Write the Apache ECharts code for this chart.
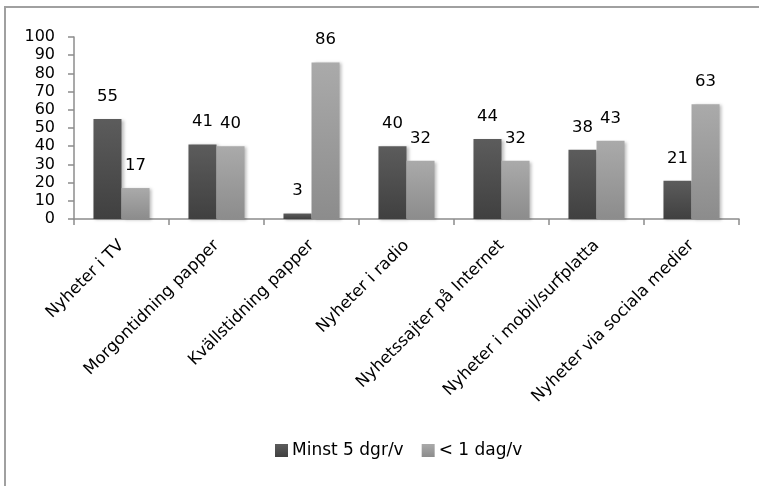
<!DOCTYPE html>
<html>
<head>
<meta charset="utf-8">
<script src="https://cdn.jsdelivr.net/npm/echarts@6/dist/echarts.min.js"></script>
<style>
html,body{margin:0;padding:0;background:#fff;}
#chart{width:759px;height:486px;}
</style>
</head>
<body>
<div id="chart"></div>
<script>
const categories = ["Nyheter i TV","Morgontidning papper","Kvällstidning papper","Nyheter i radio","Nyhetssajter på Internet","Nyheter i mobil/surfplatta","Nyheter via sociala medier"];
const seriesNames = ["Minst 5 dgr/v","< 1 dag/v"];
const minst5 = [55,41,3,40,44,38,21];
const under1 = [17,40,86,32,32,43,63];
const yTicks = {min:0,max:100,interval:10};

const FONT = "DejaVu Sans";
function grad(top,bottom){
  return new echarts.graphic.LinearGradient(0,0,0,1,[{offset:0,color:top},{offset:1,color:bottom}]);
}
const chart = echarts.init(document.getElementById('chart'), null, {renderer:'canvas'});
const labelStyle = {show:true, position:'top', distance:14, fontFamily:FONT, fontSize:16.5, color:'#000'};
chart.setOption({
  animation:false,
  backgroundColor:'#fff',
  graphic:[{type:'rect', shape:{x:5,y:7,width:800,height:520}, style:{fill:'none', stroke:'#a0a0a0', lineWidth:2}, z:-1}],
  grid:{left:74, right:20, top:37, bottom:267, containLabel:false},
  legend:{
    data:seriesNames, left:270, top:437, itemWidth:13, itemHeight:13, itemGap:18,
    textStyle:{fontFamily:FONT, fontSize:17, color:'#000', padding:[0,0,0,-1]},
    icon:'rect'
  },
  xAxis:{
    type:'category', data:categories, boundaryGap:true,
    axisLine:{lineStyle:{color:'#8c8c8c', width:1.5}},
    axisTick:{show:true, length:6, inside:false, lineStyle:{color:'#8c8c8c', width:1.5}},
    axisLabel:{rotate:45, interval:0, margin:24, align:'right', verticalAlign:'middle', fontFamily:FONT, fontSize:16.5, color:'#000'}
  },
  yAxis:{
    type:'value', min:yTicks.min, max:yTicks.max, interval:yTicks.interval,
    splitLine:{show:false},
    axisLine:{show:true, lineStyle:{color:'#8c8c8c', width:1.5}},
    axisTick:{show:true, length:6, lineStyle:{color:'#8c8c8c', width:1.5}},
    axisLabel:{margin:19, fontFamily:FONT, fontSize:16, color:'#000'}
  },
  series:[
    {name:seriesNames[0], type:'bar', data:minst5, barGap:'0%', barCategoryGap:'41%',
     itemStyle:{color:grad('#5c5c5c','#404040'), shadowBlur:3, shadowOffsetX:2, shadowOffsetY:1, shadowColor:'rgba(0,0,0,0.25)'},
     label:labelStyle},
    {name:seriesNames[1], type:'bar', data:under1, barGap:'0%', barCategoryGap:'41%',
     itemStyle:{color:grad('#aaaaaa','#8c8c8c'), shadowBlur:3, shadowOffsetX:2, shadowOffsetY:1, shadowColor:'rgba(0,0,0,0.25)'},
     label:labelStyle}
  ]
});
</script>
</body>
</html>
